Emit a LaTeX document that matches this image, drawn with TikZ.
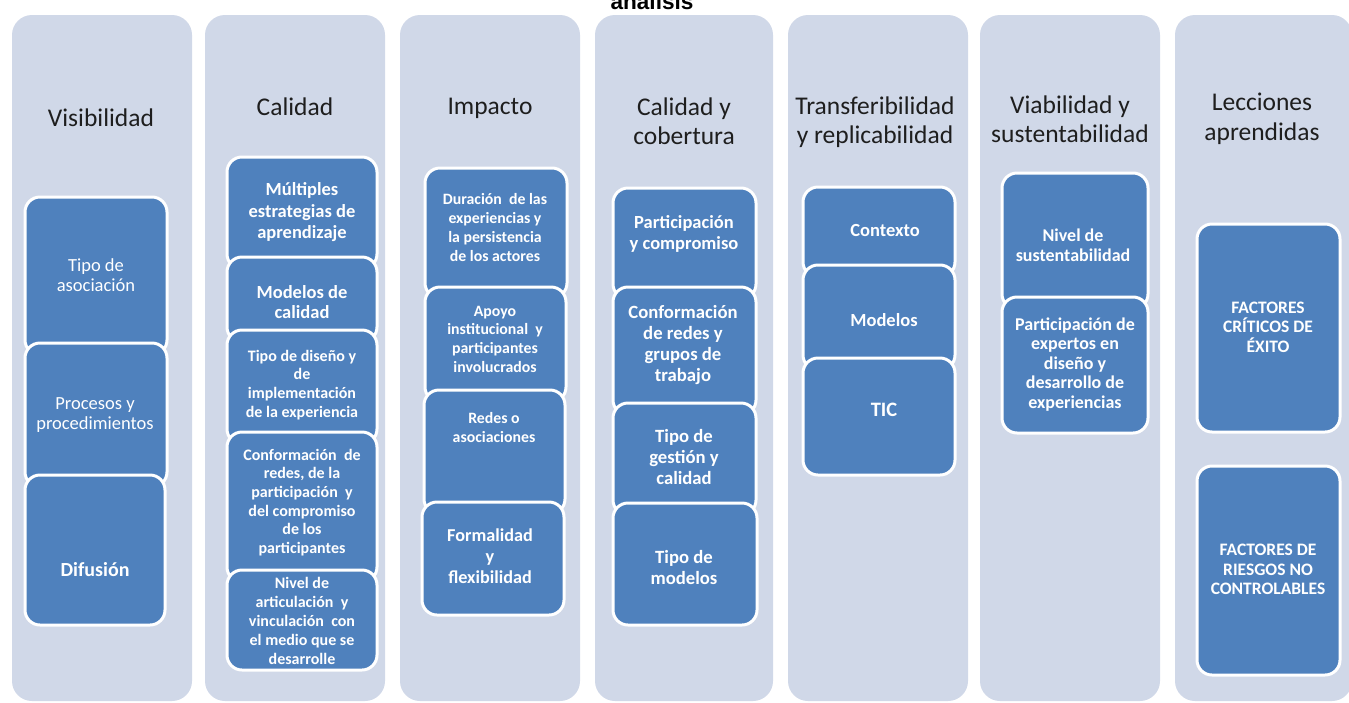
\documentclass[tikz,border=0pt]{standalone}
\usepackage{fontspec}
\setmainfont{Carlito}
\newfontfamily\titlefont{Liberation Sans}
\definecolor{panelc}{HTML}{D0D8E8}
\definecolor{boxc}{HTML}{4F81BD}
\definecolor{hdrc}{HTML}{1E1E1E}
\tikzset{
  panel/.style={fill=panelc, draw=none, rounded corners=20pt},
  inbox/.style={fill=boxc, draw=white, line width=3pt, rounded corners=15pt},
  hdr/.style={text=hdrc, align=center, inner sep=0pt, font=\fontsize{25.5}{29.5}\selectfont},
  btxt/.style n args={2}{text=white, align=center, inner sep=0pt, font=\bfseries\fontsize{#1}{#2}\selectfont},
  rtxt/.style n args={2}{text=white, align=center, inner sep=0pt, font=\fontsize{#1}{#2}\selectfont}
}
\newcommand{\bxx}[4]{\draw[inbox] (#1,#2) rectangle (#3,#4);}
\begin{document}
\begin{tikzpicture}[x=1pt,y=-1pt]
\useasboundingbox (0,0) rectangle (1349,702);
\fill[white] (0,0) rectangle (1349,702);
% title fragment (cut off at the top edge, as in the reference)
\node[anchor=base, inner sep=0pt, font=\titlefont\bfseries\fontsize{22.6}{26}\selectfont] (title) at (652,9) {análisis};
% panels
\path[panel] (12,15) rectangle (192,701);
\path[panel] (205,15) rectangle (385,701);
\path[panel] (400,15) rectangle (580,701);
\path[panel] (595,15) rectangle (773,701);
\path[panel] (788,15) rectangle (968,701);
\path[panel] (980,15) rectangle (1160,701);
\path[panel] (1175,15) rectangle (1352,701);
% headers
\node[hdr] (h1) at (101,118) {Visibilidad};
\node[hdr] (h2) at (295,107) {Calidad};
\node[hdr] (h3) at (490,108) {Impacto};
\node[hdr] (h4) at (684,121) {Calidad y\\cobertura};
\node[hdr] (h5) at (875,122) {Transferibilidad\\y replicabilidad};
\node[hdr] (h6) at (1070,119) {Viabilidad y\\sustentabilidad};
\node[hdr] (h7) at (1262,119) {Lecciones\\aprendidas};
% column 1
\bxx{25}{197}{167}{355}
\node[rtxt={18.5}{20.5}] (c1a) at (96,275) {Tipo de\\asociación};
\bxx{25}{343}{167}{487}
\node[rtxt={18.5}{20.5}] (c1b) at (95,415) {Procesos y\\procedimientos};
\bxx{25}{475}{165}{625}
\node[btxt={20}{24}] (c1c) at (95,570) {Difusión};
% column 2
\bxx{227}{157}{377}{269}
\node[btxt={18.5}{21.5}] (c2a) at (302,212.5) {Múltiples\\estrategias de\\aprendizaje};
\bxx{227}{257}{377}{342}
\node[btxt={18.5}{20.5}] (c2b) at (302,302) {Modelos de\\calidad};
\bxx{227}{330}{377}{444}
\node[btxt={16}{18.8}] (c2c) at (302,385) {Tipo de diseño y\\de\\implementación\\de la experiencia};
\bxx{227}{432}{377}{582}
\node[btxt={16}{18.6}] (c2d) at (302,502.5) {Conformación\ \ de\\redes, de la\\participación\ \ y\\del compromiso\\de los\\participantes};
\bxx{227}{570}{377}{670}
\node[btxt={16}{18.8}] (c2e) at (302,621) {Nivel de\\articulación\ \ y\\vinculación\ \ con\\el medio que se\\desarrolle};
% column 3
\bxx{425}{168}{567}{298}
\node[btxt={15.8}{18.8}] (c3a) at (495,227.5) {Duración\ \ de las\\experiencias y\\la persistencia\\de los actores};
\bxx{425}{287}{566}{402}
\node[btxt={15.8}{18.7}] (c3b) at (495,339) {Apoyo\\institucional\ \ y\\participantes\\involucrados};
\bxx{424}{390}{565}{514}
\node[btxt={15.8}{19}] (c3c) at (494,427.5) {Redes o\\asociaciones};
\bxx{422}{502}{564}{615}
\node[btxt={18.2}{21}] (c3d) at (490,556) {Formalidad\\y\\flexibilidad};
% column 4
\bxx{613}{188}{756}{299}
\node[btxt={18.5}{20.5}] (c4a) at (684,234) {Participación\\y compromiso};
\bxx{613}{287}{756}{415}
\node[btxt={18.7}{21}] (c4b) at (683,345.5) {Conformación\\de redes y\\grupos de\\trabajo};
\bxx{613}{403}{756}{515}
\node[btxt={18.7}{21}] (c4c) at (684,457) {Tipo de\\gestión y\\calidad};
\bxx{613}{503}{757}{625}
\node[btxt={18.7}{21}] (c4d) at (684,567.5) {Tipo de\\modelos};
% column 5
\bxx{803}{187}{955}{277}
\node[btxt={18.5}{21}] (c5a) at (885,230) {Contexto};
\bxx{803}{265}{955}{370}
\node[btxt={18.5}{21}] (c5b) at (884,320) {Modelos};
\bxx{803}{358}{955}{475}
\node[btxt={20.5}{23}] (c5c) at (884,410) {TIC};
% column 6
\bxx{1002}{173}{1148}{309}
\node[btxt={18}{20}] (c6a) at (1073,245) {Nivel de\\sustentabilidad};
\bxx{1002}{297}{1148}{433}
\node[btxt={18}{19.5}] (c6b) at (1075,364.5) {Participación de\\expertos en\\diseño y\\desarrollo de\\experiencias};
% column 7
\bxx{1197}{224}{1340}{432}
\node[btxt={17.5}{19.4}] (c7a) at (1268,327) {FACTORES\\CRÍTICOS DE\\ÉXITO};
\bxx{1197}{466}{1340}{675}
\node[btxt={17.5}{19.6}] (c7b) at (1268,569.5) {FACTORES DE\\RIESGOS NO\\CONTROLABLES};
\end{tikzpicture}
\end{document}
